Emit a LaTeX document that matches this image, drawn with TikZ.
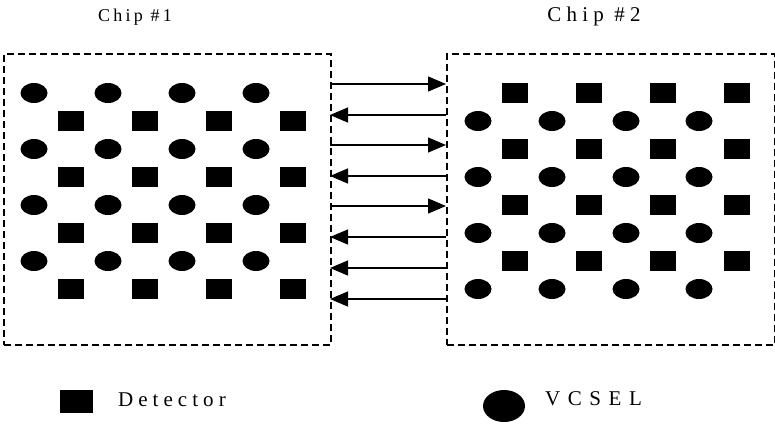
\documentclass[tikz,border=0pt]{standalone}
\usepackage{fontspec}
\setmainfont{Liberation Serif}
\newfontfamily\chipa[LetterSpace=18]{Liberation Serif}
\newfontfamily\chipb[LetterSpace=25]{Liberation Serif}
\newfontfamily\legfont[LetterSpace=24]{Liberation Serif}
\newfontfamily\legfontb[LetterSpace=36]{Liberation Serif}
\usetikzlibrary{shapes.geometric,arrows.meta}
\begin{document}
\begin{tikzpicture}[x=1pt,y=-1pt,
  chipbox/.style={draw=black,line width=2pt,dash pattern=on 7pt off 4pt},
  vcsel/.style={ellipse,fill=black,inner sep=0pt,minimum width=27pt,minimum height=20pt},
  detector/.style={rectangle,fill=black,inner sep=0pt,minimum width=26pt,minimum height=20pt},
  link/.style={line width=1.3pt,-{Triangle[length=18pt,width=15pt]}},
  lbl/.style={inner sep=0pt,anchor=center}]
\useasboundingbox (0,0) rectangle (775,423);
% chip boxes
\node[chipbox,rectangle,minimum width=327pt,minimum height=291pt,inner sep=0pt,anchor=north west] (chipA) at (3,53) {};
\node[chipbox,rectangle,minimum width=328pt,minimum height=291pt,inner sep=0pt,anchor=north west] (chipB) at (446,53) {};
% labels
\node[lbl] (labA) at (135,17) {\chipa\fontsize{18}{20}\selectfont Chip \#1};
\node[lbl] (labB) at (594,16) {\chipb\fontsize{21}{24}\selectfont Chip \#2};
% chip 1 arrays
\foreach \r/\y in {1/93,2/149,3/205,4/261}{
  \foreach \c/\x in {1/34,2/108,3/182,4/256}{
    \node[vcsel] (av\r\c) at (\x,\y) {};
  }
}
\foreach \r/\y in {1/121,2/177,3/233,4/289}{
  \foreach \c/\x in {1/71,2/145,3/219,4/293}{
    \node[detector] (ad\r\c) at (\x,\y) {};
  }
}
% chip 2 arrays
\foreach \r/\y in {1/93,2/149,3/205,4/261}{
  \foreach \c/\x in {1/515,2/589,3/663,4/737}{
    \node[detector] (bd\r\c) at (\x,\y) {};
  }
}
\foreach \r/\y in {1/121,2/177,3/233,4/289}{
  \foreach \c/\x in {1/478,2/552,3/626,4/699}{
    \node[vcsel] (bv\r\c) at (\x,\y) {};
  }
}
% link end points
\foreach \i/\y in {1/84,2/115,3/145,4/176,5/206,6/237,7/268,8/299}{
  \coordinate (L\i) at (330,\y);
  \coordinate (R\i) at (446,\y);
}
\draw[link] (L1) -- (R1);
\draw[link] (R2) -- (L2);
\draw[link] (L3) -- (R3);
\draw[link] (R4) -- (L4);
\draw[link] (L5) -- (R5);
\draw[link] (R6) -- (L6);
\draw[link] (R7) -- (L7);
\draw[link] (R8) -- (L8);
% legend
\node[rectangle,fill=black,inner sep=0pt,minimum width=33pt,minimum height=23pt] (legD) at (76,401) {};
\node[inner sep=0pt,anchor=west] (legDt) at (118,400) {\legfont\fontsize{21}{24}\selectfont Detector};
\node[ellipse,fill=black,inner sep=0pt,minimum width=42pt,minimum height=32pt] (legV) at (504,406) {};
\node[inner sep=0pt,anchor=west] (legVt) at (545,399) {\legfontb\fontsize{21}{24}\selectfont VCSEL};
\end{tikzpicture}
\end{document}
